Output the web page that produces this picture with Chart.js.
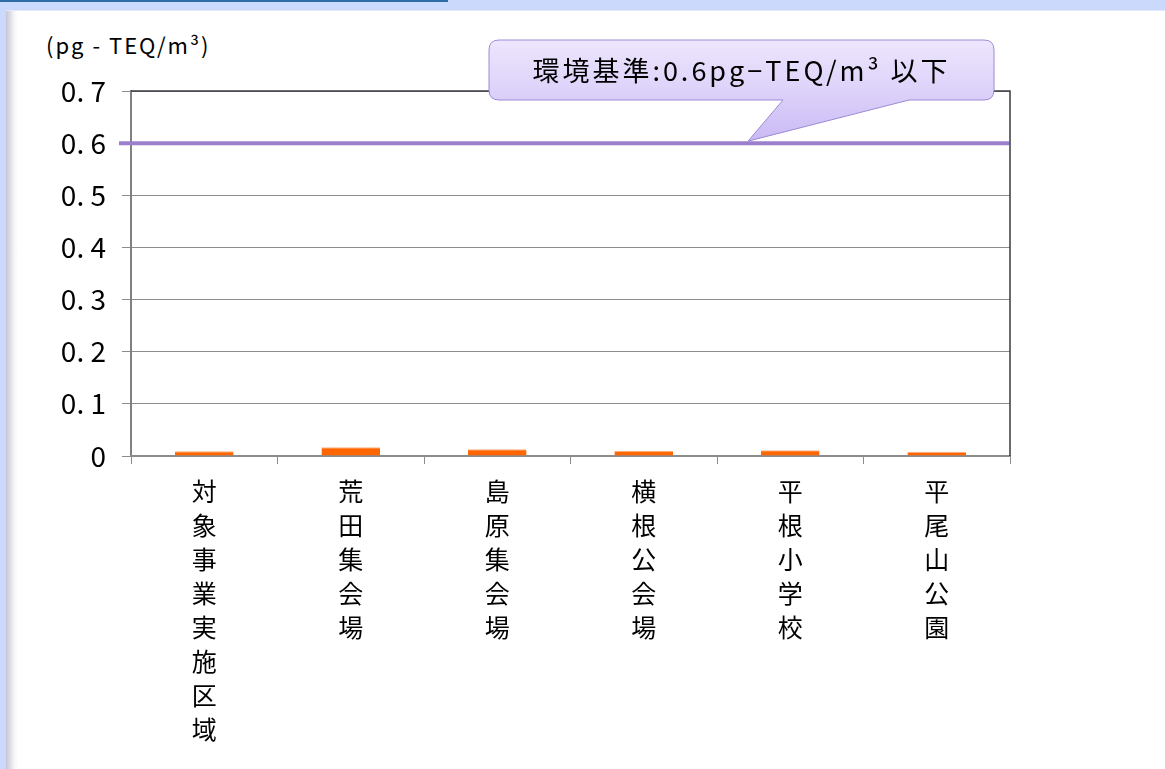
<!DOCTYPE html>
<html>
<head>
<meta charset="utf-8">
<script src="https://cdn.jsdelivr.net/npm/chart.js@4.4.7/dist/chart.umd.min.js"></script>
<style>
  html, body { margin: 0; padding: 0; }
  body { width: 1165px; height: 769px; background: #cbdafc; position: relative; overflow: hidden; }
  #topline { position: absolute; left: 0; top: 0; width: 448px; height: 2px; background: #2f6ea6; }
  #panel {
    position: absolute; left: 6px; top: 10px; right: 0; bottom: 0;
    background: linear-gradient(to right, #c6c7d2 0px, #dcdde4 4px, #f4f4f7 8px, #ffffff 12px);
    border-top: 1px solid #e2e9fc;
  }
  #unit { position: absolute; left: 46px; top: 28px; font: 22px "Noto Sans CJK JP", sans-serif; letter-spacing: 2px; color: #000; }
  #wrap { position: absolute; left: 0; top: 0; width: 1165px; height: 769px; }
</style>
</head>
<body>
<div id="topline"></div>
<div id="panel"></div>
<div id="unit">(pg - TEQ/m³)</div>
<div id="wrap"><canvas id="chart" width="1165" height="769"></canvas></div>
<script>
// 測定地点と測定値 (pg-TEQ/m3)
const categories = ["対象事業実施区域", "荒田集会場", "島原集会場", "横根公会場", "平根小学校", "平尾山公園"]
const values = [0.009, 0.017, 0.013, 0.010, 0.011, 0.008]
const standardValue = 0.6
const standardText = "環境基準:0.6pg−TEQ/m³ 以下"
const yMax = 0.7
const yStep = 0.1

const font = "'Noto Sans CJK JP', sans-serif"

// 環境基準の線と吹き出し、枠線
const standardPlugin = {
  id: "standard",
  afterDatasetsDraw(chart) {
    const { ctx, chartArea, scales } = chart
    const y = scales.y.getPixelForValue(standardValue)
    ctx.save()
    // 枠 (上・右)
    ctx.strokeStyle = "#3a3a42"
    ctx.lineWidth = 1.5
    ctx.beginPath()
    ctx.moveTo(chartArea.left, chartArea.top)
    ctx.lineTo(chartArea.right, chartArea.top)
    ctx.lineTo(chartArea.right, chartArea.bottom)
    ctx.stroke()
    // 基準線
    ctx.strokeStyle = "#9b7fcd"
    ctx.lineWidth = 4
    ctx.beginPath()
    ctx.moveTo(chartArea.left - 12, y)
    ctx.lineTo(chartArea.right - 1, y)
    ctx.stroke()

    // 吹き出し
    const bx = 489, by = 40, bw = 505, bh = 60, r = 10
    const tipX = 748
    const baseL = 783, baseR = 909
    ctx.beginPath()
    ctx.moveTo(bx + r, by)
    ctx.lineTo(bx + bw - r, by)
    ctx.quadraticCurveTo(bx + bw, by, bx + bw, by + r)
    ctx.lineTo(bx + bw, by + bh - r)
    ctx.quadraticCurveTo(bx + bw, by + bh, bx + bw - r, by + bh)
    ctx.lineTo(baseR, by + bh)
    ctx.lineTo(tipX, y - 2)
    ctx.lineTo(baseL, by + bh)
    ctx.lineTo(bx + r, by + bh)
    ctx.quadraticCurveTo(bx, by + bh, bx, by + bh - r)
    ctx.lineTo(bx, by + r)
    ctx.quadraticCurveTo(bx, by, bx + r, by)
    ctx.closePath()
    const g = ctx.createLinearGradient(0, by, 0, y)
    g.addColorStop(0, "#ede6fd")
    g.addColorStop(0.5, "#ddd2fa")
    g.addColorStop(1, "#c9b8f4")
    ctx.fillStyle = g
    ctx.fill()
    ctx.strokeStyle = "#9d8ad4"
    ctx.lineWidth = 1
    ctx.stroke()

    ctx.fillStyle = "#000"
    ctx.font = "27px " + font
    ctx.letterSpacing = "3px"
    ctx.textAlign = "center"
    ctx.textBaseline = "middle"
    ctx.fillText(standardText, bx + bw / 2, by + bh / 2 + 1)
    ctx.restore()
  }
}

new Chart(document.getElementById("chart"), {
  type: "bar",
  data: {
    labels: categories.map(c => c.split("")),
    datasets: [{
      data: values,
      backgroundColor: "#ff6600",
      borderColor: "#ffb080",
      borderWidth: { top: 1, left: 0, right: 0, bottom: 0 },
      borderSkipped: "bottom",
      categoryPercentage: 1,
      barPercentage: 0.4
    }]
  },
  options: {
    responsive: false,
    animation: false,
    layout: { padding: { top: 91, right: 155, left: 0, bottom: 0 } },
    plugins: {
      legend: { display: false },
      tooltip: { enabled: false }
    },
    scales: {
      y: {
        min: 0,
        max: yMax,
        afterFit: s => { s.width = 131 },
        ticks: {
          stepSize: yStep,
          padding: 16,
          color: "#000",
          font: { family: font, size: 28 },
          callback: v => v === 0 ? "0" : v.toFixed(1).replace(".", ". ")
        },
        grid: { color: "#8c8c8c", lineWidth: 1, tickLength: 9 },
        border: { color: "#808080", width: 2 }
      },
      x: {
        afterFit: s => { s.height = 313 },
        ticks: {
          padding: 10,
          color: "#000",
          autoSkip: false,
          maxRotation: 0,
          font: { family: font, size: 25, lineHeight: "34px" }
        },
        grid: { drawOnChartArea: false, color: "#8c8c8c", tickLength: 8, offset: true },
        border: { color: "#8c8c8c", width: 2 }
      }
    }
  },
  plugins: [standardPlugin]
})
</script>
</body>
</html>
